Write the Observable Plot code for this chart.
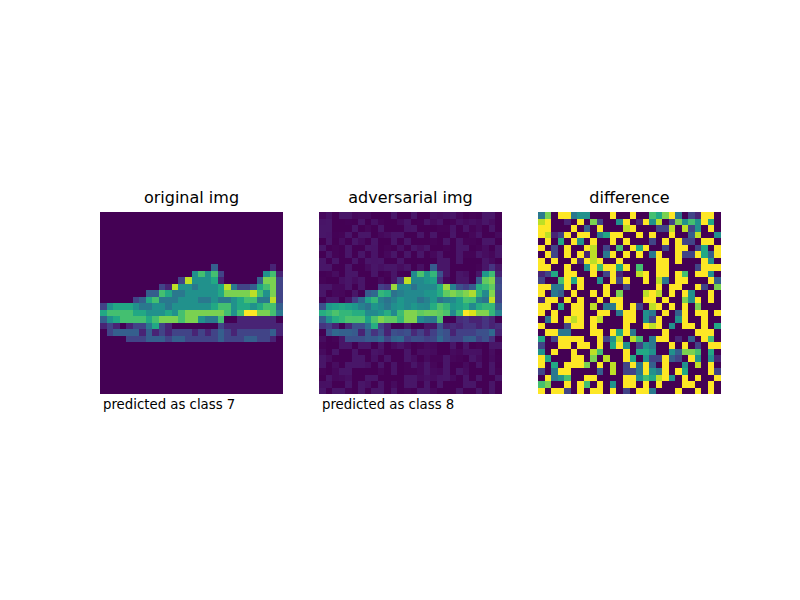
<!DOCTYPE html>
<html><head><meta charset="utf-8">
<script src="https://cdn.jsdelivr.net/npm/d3@7"></script>
<script src="https://cdn.jsdelivr.net/npm/@observablehq/plot@0.6"></script>
<style>
body{margin:0;background:#fff;}
#fig{position:relative;width:800px;height:600px;background:#fff;font-family:"DejaVu Sans",sans-serif;color:#000;}
.panel{position:absolute;top:212px;line-height:0;}
.title{position:absolute;top:188px;width:183px;text-align:center;font-size:16px;line-height:20px;white-space:nowrap;}
.cap{position:absolute;top:397px;font-size:13.3px;line-height:16px;white-space:nowrap;}
</style></head><body><div id="fig"></div>
<script>
// pixel intensity levels (0..a = 0..10 tenths), 28 rows x 28 columns
const originalRows = [
"0000000000000000000000000000",
"0000000000000000000000000000",
"0000000000000000000000000000",
"0000000000000000000000000000",
"0000000000000000000000000000",
"0000000000000000000000000000",
"0000000000000000000000000000",
"0000000000000000000000000000",
"0000000000000000030000000010",
"0000000000000057572000000571",
"0000000000002955561000003882",
"0000000002195545556942236782",
"0000000337644555556888897582",
"0000023674445554454456774492",
"25666544554555" + "55567756656773",
"67777665556578" + "88888757aa8874",
"35677776788878" + "85447001111110",
"12101224621000" + "00002111111111",
"02333313121222" + "12123212222231",
"00002223332332" + "22223222332210",
"0000000000000000000000000000",
"0000000000000000000000000000",
"0000000000000000000000000000",
"0000000000000000000000000000",
"0000000000000000000000000000",
"0000000000000000000000000000",
"0000000000000000000000000000",
"0000000000000000000000000000"
];
// perturbation levels (0 = most negative, a = most positive)
const differenceRows = [
"480aa455000a00" + "a00768a4021aa0",
"9a0010a082005a" + "01a59028575a60",
"aa000a030a0009" + "a00022909250a0",
"a912a0aa046aa0" + "0a0a00a0039005",
"0a060a50a00a0a" + "00020a0a220aa0",
"a020a00a902070" + "a6a0020aa0260a",
"0a20a0a1904a0a" + "0a04a00a22a63a",
"a0a00a1a9a00a0" + "0000aa0a000a50",
"aa00a005a7aa6a" + "0700aa00002aaa",
"1260aa00a02a10" + "09a0aa0a70aa50",
"2007a6a0050a2a" + "00a0940aa000a3",
"aa44a0a000a002" + "0000a0aa00a208",
"a0430a00a0a080" + "009a90a0a500a0",
"1aa0a0a00a0aa0" + "00aa0a0085a0a0",
"aa060aa09044a0" + "a209a0a0a08000",
"a0a00aa00aa04a" + "a0540a03a0aa0a",
"04a0a9a0a9000a" + "a052a005a00a00",
"a0002aa0a0000a" + "00a9a050aa0a06",
"0aa44000aa0a6a" + "40000a0000aaa0",
"602aaaa00a2590" + "9704aa01030a70",
"200aa0aa0a06a5" + "025400a0a020aa",
"50a00a0097000a" + "06650053887060",
"a6000aa080900a" + "60522a320a5051",
"a060aaa80a0902" + "a4a30a005090a0",
"204aa000030902" + "24a54a0a6000a2",
"0a45700aa0000a" + "a5769a50a0a00a",
"7800a0a70a050a" + "a0a0a000aa00a0",
"a0aa20a0aa0a02" + "0aa4000a00a0a0"
];
const titles = ["original img", "adversarial img", "difference"];
const captions = ["predicted as class 7", "predicted as class 8", ""];
const epsilon = 0.03;
const panelLeft = [100, 319, 538];

const level = ch => parseInt(ch, 11) / 10;
const N = 28;
const original = [], difference = [], adversarial = [];
for (let r = 0; r < N; r++) {
  for (let c = 0; c < N; c++) {
    const o = level(originalRows[r][c] || "0");
    const d = level(differenceRows[r][c] || "0") * 2 - 1;
    original.push({row: r, col: c, v: o});
    difference.push({row: r, col: c, v: d});
    adversarial.push({row: r, col: c, v: o + epsilon * d});
  }
}
const sets = [original, adversarial, difference];
const fig = document.getElementById("fig");
sets.forEach((data, i) => {
  const chart = Plot.plot({
    width: 183, height: 182, margin: 0,
    style: {background: "#fff"},
    x: {type: "band", domain: d3.range(N), padding: 0, round: false, axis: null},
    y: {type: "band", domain: d3.range(N), padding: 0, round: false, axis: null},
    color: {type: "linear", scheme: "viridis", domain: d3.extent(data, d => d.v)},
    marks: [Plot.cell(data, {x: "col", y: "row", fill: "v", inset: 0, shapeRendering: "crispEdges"})]
  });
  const p = document.createElement("div");
  p.className = "panel"; p.style.left = panelLeft[i] + "px";
  p.appendChild(chart); fig.appendChild(p);
  const t = document.createElement("div");
  t.className = "title"; t.style.left = panelLeft[i] + "px"; t.textContent = titles[i];
  fig.appendChild(t);
  if (captions[i]) {
    const cp = document.createElement("div");
    cp.className = "cap"; cp.style.left = (panelLeft[i] + 3) + "px"; cp.textContent = captions[i];
    fig.appendChild(cp);
  }
});
</script></body></html>
